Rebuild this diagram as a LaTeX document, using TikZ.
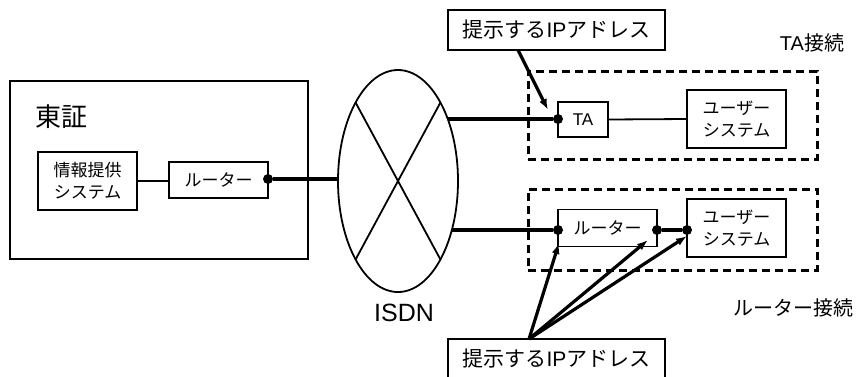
\documentclass[tikz,border=0pt]{standalone}
\usepackage{fontspec}
\setmainfont{Noto Sans CJK JP}
\newfontfamily\lat{Liberation Sans}
\usetikzlibrary{arrows.meta,shapes.geometric}
\tikzset{
  bx/.style={draw, line width=1.8pt, inner sep=0pt, outer sep=0pt, align=center, fill=white},
  dbox/.style={draw, line width=3pt, dash pattern=on 8pt off 5pt, inner sep=0pt, outer sep=0pt},
  dotnode/.style={circle, fill, inner sep=0pt, minimum size=10pt},
  ln/.style={line width=1.8pt},
  ln3/.style={line width=3.4pt},
  arr/.style={line width=3.2pt, -{Latex[length=11pt,width=8pt]}},
  f17/.style={font=\fontsize{17}{22}\selectfont},
  f21/.style={font=\fontsize{21}{21}\selectfont},
  f20/.style={font=\fontsize{20}{20}\selectfont},
}
\begin{document}
\begin{tikzpicture}[x=1pt,y=-1pt]
\useasboundingbox (0,0) rectangle (858,376);
\clip (0,0) rectangle (858,376);
\fill[white] (0,0) rectangle (858,376);

% dashed groups
\node[dbox, minimum width=289pt, minimum height=88pt] (grpTA) at (672.5,115) {};
\node[dbox, minimum width=289pt, minimum height=81pt] (grpR) at (672.5,229.5) {};

% left building
\node[bx, minimum width=298pt, minimum height=178pt] (tse) at (159,170) {};
\node[font=\fontsize{26}{26}\selectfont] (tsel) at (61,117) {東証};
\node[bx, f17, minimum width=99pt, minimum height=58pt] (info) at (87.5,181) {情報提供\\システム};
\node[bx, f17, minimum width=99pt, minimum height=36pt] (rl) at (218.5,180) {ルーター};
\draw[ln] (info.east) -- (info.east -| rl.west);

% ISDN cloud
\node[draw, ellipse, line width=1.8pt, inner sep=0pt, outer sep=0pt,
      minimum width=120pt, minimum height=222pt] (isdn) at (398,181) {};
\draw[ln] (isdn.north west) -- (isdn.south east);
\draw[ln] (isdn.north east) -- (isdn.south west);
\node[font=\lat\fontsize{25}{25}\selectfont] (isdnl) at (404,313) {ISDN};

% right side boxes
\node[bx, font=\lat\fontsize{17}{17}\selectfont, minimum width=50pt, minimum height=35pt] (ta) at (583,119.5) {TA};
\node[bx, f17, minimum width=99pt, minimum height=58pt] (u1) at (736.5,119) {ユーザー\\システム};
\node[bx, f17, minimum width=99pt, minimum height=37pt] (rr) at (607.5,228) {ルーター};
\node[bx, f17, minimum width=99pt, minimum height=58pt] (u2) at (736.5,228) {ユーザー\\システム};

\draw[ln] (ta.east) -- (u1.west);

% dots
\node[dotnode] (rld) at (268,179) {};
\node[dotnode] (tad) at (558,119) {};
\node[dotnode] (rrd1) at (558,230) {};
\node[dotnode] (rrd2) at (657,230) {};
\node[dotnode] (usd) at (687,230) {};

% ellipse edge points
\coordinate (eL) at (338,179);
\coordinate (eTA) at (448,119);
\coordinate (eR) at (452,230);

\draw[ln3] (rld) -- (eL);
\draw[ln3] (eTA) -- (tad);
\draw[ln3] (eR) -- (rrd1);
\draw[ln3] (rrd2) -- (usd);

% labels
\node[bx, f21, minimum width=217pt, minimum height=40pt] (lab1) at (556.5,30) {提示する{\lat IP}アドレス};
\node[bx, f21, minimum width=217pt, minimum height=40pt] (lab2) at (556.5,359) {提示する{\lat IP}アドレス};
\node[f20] (grpTAl) at (812,43) {{\lat TA}接続};
\node[f20] (grpRl) at (793,308) {ルーター接続};

% arrows
\coordinate (a1s) at (518,50);
\coordinate (a1t) at (548,110);
\coordinate (a2s) at (529,339);
\coordinate (a2t1) at (559,243);
\coordinate (a2t2) at (648,240);
\coordinate (a2t3) at (687,236);
\draw[arr] (a1s) -- (a1t);
\draw[arr] (a2s) -- (a2t1);
\draw[arr] (a2s) -- (a2t2);
\draw[arr] (a2s) -- (a2t3);
\end{tikzpicture}
\end{document}
